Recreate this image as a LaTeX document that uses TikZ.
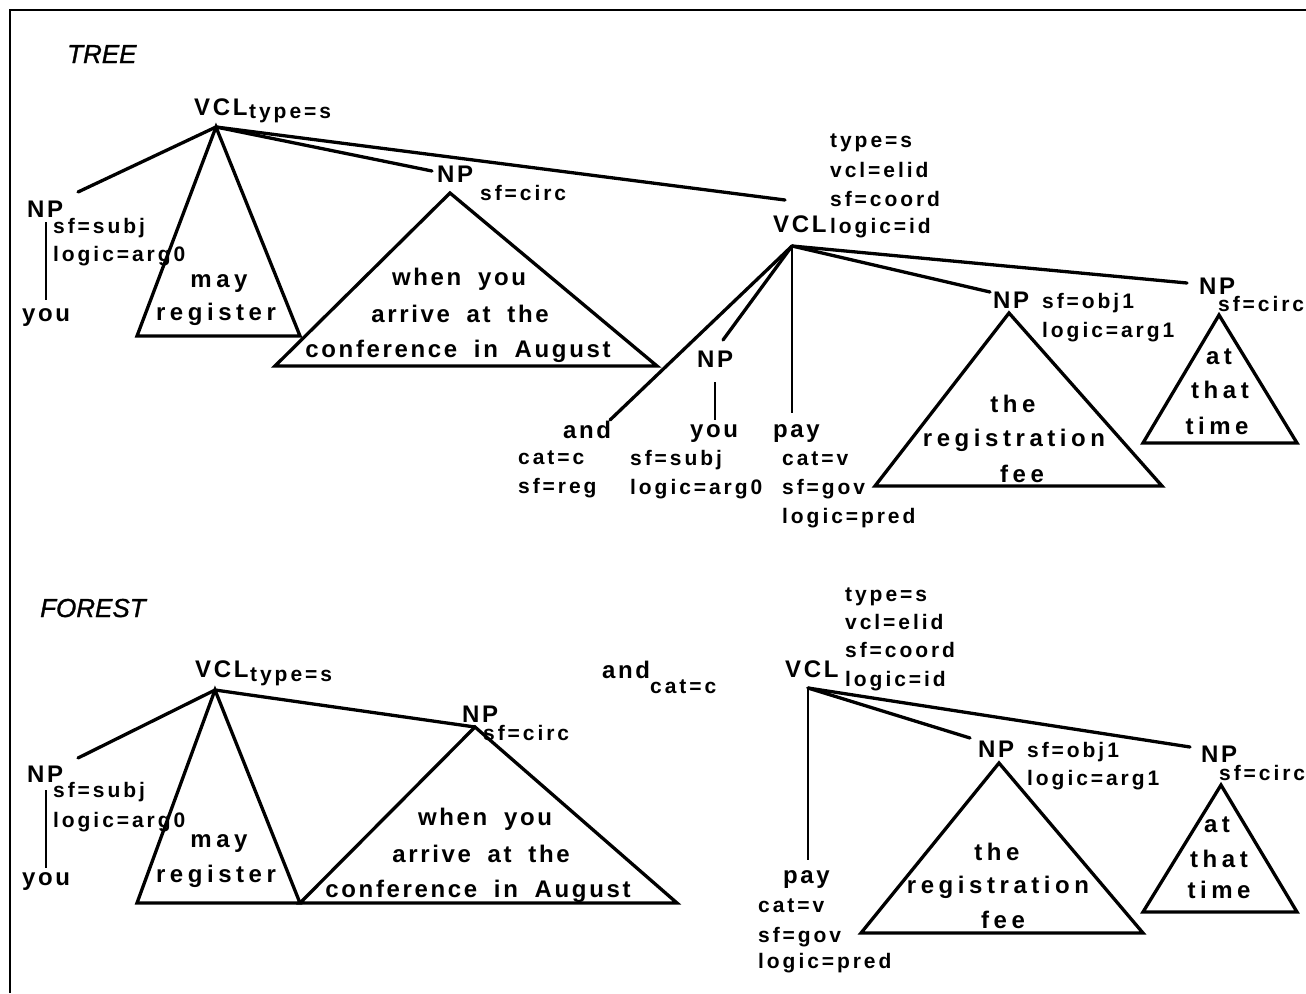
\documentclass[tikz,border=0pt]{standalone}
\usepackage{fontspec}
\setmainfont{Liberation Sans}
\newfontfamily\lblfont[LetterSpace=14]{Liberation Sans Bold}
\newfontfamily\wrdfont[LetterSpace=11,WordSpace=1.8]{Liberation Sans Bold}
\newfontfamily\widefont[LetterSpace=19]{Liberation Sans Bold}
\newfontfamily\ttlfont[FakeBold=1.2]{Liberation Sans Italic}
\tikzset{
  big/.style={inner sep=0pt, font=\wrdfont\fontsize{24}{28}\selectfont},
  bigw/.style={inner sep=0pt, font=\widefont\fontsize{24}{28}\selectfont},
  small/.style={inner sep=0pt, anchor=base west, font=\lblfont\fontsize{21}{25}\selectfont},
  ttl/.style={inner sep=0pt, anchor=base west, font=\ttlfont\fontsize{26}{30}\selectfont},
  bw/.style={anchor=base west},
  bc/.style={anchor=base},
  edge/.style={line width=3.3pt, line cap=round},
  thinedge/.style={line width=2pt},
  tri/.style={line width=3.3pt, line join=miter},
}
\begin{document}
\begin{tikzpicture}[x=1pt,y=-1pt]
\useasboundingbox (0,0) rectangle (1306,993);
\fill[white] (0,0) rectangle (1306,993);

% frame
\coordinate (fBL) at (10,993);
\coordinate (fTL) at (10,10);
\coordinate (fTR) at (1306,10);
\draw[line width=2.6pt] (fBL) -- (fTL) -- (fTR);

% ================= TREE =================
\node[ttl] (ttree) at (67,63) {TREE};

% root clause
\node[big,bw] (vclA) at (194,115) {VCL};
\node[small] (vclAf) at (249,118) {type=s};
\coordinate (rA) at (216,127);

% subject NP
\node[big,bw] (npA) at (27,217) {NP};
\node[small] (npAf1) at (53,233) {sf=subj};
\node[small] (npAf2) at (53,261) {logic=arg0};
\coordinate (npAin) at (78,192);
\coordinate (npAs) at (46,222);
\coordinate (npAe) at (46,300);
\node[big,bw] (youA) at (22,321) {you};
\draw[edge] (rA) -- (npAin);
\draw[thinedge] (npAs) -- (npAe);

% may register
\coordinate (mrAL) at (137,336);
\coordinate (mrAR) at (300,336);
\draw[tri] (rA) -- (mrAL) -- (mrAR) -- cycle;
\node[bigw,bc] (mayA) at (219,287) {may};
\node[bigw,bc] (regA) at (216,320) {register};

% circumstantial NP
\node[big,bw] (npB) at (437,182) {NP};
\node[small] (npBf) at (480,200) {sf=circ};
\coordinate (npBin) at (432,171);
\draw[edge] (rA) -- (npBin);
\coordinate (wA) at (450,193);
\coordinate (wAL) at (275,366);
\coordinate (wAR) at (657,366);
\draw[tri] (wA) -- (wAL) -- (wAR) -- cycle;
\node[big,bc] (whA1) at (459,285) {when you};
\node[big,bc] (whA2) at (460,322) {arrive at the};
\node[big,bc] (whA3) at (458,357) {conference in August};

% elided coordinated clause
\node[big,bw] (vclB) at (773,232) {VCL};
\node[small] (vclBf1) at (830,147) {type=s};
\node[small] (vclBf2) at (830,177) {vcl=elid};
\node[small] (vclBf3) at (830,206) {sf=coord};
\node[small] (vclBf4) at (830,233) {logic=id};
\coordinate (vclBin) at (785,200);
\coordinate (rB) at (792,246);
\draw[edge] (rA) -- (vclBin);

% and
\coordinate (andBin) at (610,420);
\node[big,bw] (andB) at (563,438) {and};
\node[small] (andBf1) at (518,464) {cat=c};
\node[small] (andBf2) at (518,493) {sf=reg};
\draw[edge] (rB) -- (andBin);

% elided subject
\coordinate (npCin) at (723,340);
\node[big,bw] (npC) at (697,367) {NP};
\coordinate (npCs) at (715,382);
\coordinate (npCe) at (715,420);
\node[big,bw] (youC) at (690,437) {you};
\node[small] (youCf1) at (630,465) {sf=subj};
\node[small] (youCf2) at (630,494) {logic=arg0};
\draw[edge] (rB) -- (npCin);
\draw[thinedge] (npCs) -- (npCe);

% verb
\coordinate (payBin) at (792,413);
\node[big,bw] (payB) at (773,437) {pay};
\node[small] (payBf1) at (782,465) {cat=v};
\node[small] (payBf2) at (782,494) {sf=gov};
\node[small] (payBf3) at (782,523) {logic=pred};
\draw[thinedge] (rB) -- (payBin);

% object NP
\coordinate (npDin) at (990,292);
\node[big,bw] (npD) at (993,308) {NP};
\node[small] (npDf1) at (1042,308) {sf=obj1};
\node[small] (npDf2) at (1042,337) {logic=arg1};
\draw[edge] (rB) -- (npDin);
\coordinate (feA) at (1009,313);
\coordinate (feAL) at (875,486);
\coordinate (feAR) at (1162,486);
\draw[tri] (feA) -- (feAL) -- (feAR) -- cycle;
\node[bigw,bc] (feA1) at (1013,412) {the};
\node[bigw,bc] (feA2) at (1014,446) {registration};
\node[bigw,bc] (feA3) at (1022,482) {fee};

% time NP
\coordinate (npEin) at (1187,283);
\node[big,bw] (npE) at (1199,294) {NP};
\node[small] (npEf) at (1218,311) {sf=circ};
\draw[edge] (rB) -- (npEin);
\coordinate (tmA) at (1219,315);
\coordinate (tmAL) at (1143,443);
\coordinate (tmAR) at (1297,443);
\draw[tri] (tmA) -- (tmAL) -- (tmAR) -- cycle;
\node[bigw,bc] (tmA1) at (1219,364) {at};
\node[bigw,bc] (tmA2) at (1220,398) {that};
\node[bigw,bc] (tmA3) at (1217,434) {time};

% ================= FOREST =================
\node[ttl] (tforest) at (40,617) {FOREST};

% first tree
\node[big,bw] (vclF) at (195,677) {VCL};
\node[small] (vclFf) at (250,681) {type=s};
\coordinate (rF) at (215,690);

\node[big,bw] (npF) at (27,782) {NP};
\node[small] (npFf1) at (53,797) {sf=subj};
\node[small] (npFf2) at (53,827) {logic=arg0};
\coordinate (npFin) at (78,758);
\coordinate (npFs) at (46,790);
\coordinate (npFe) at (46,868);
\node[big,bw] (youF) at (22,885) {you};
\draw[edge] (rF) -- (npFin);
\draw[thinedge] (npFs) -- (npFe);

\coordinate (mrFL) at (137,903);
\coordinate (mrFR) at (300,903);
\draw[tri] (rF) -- (mrFL) -- (mrFR) -- cycle;
\node[bigw,bc] (mayF) at (219,847) {may};
\node[bigw,bc] (regF) at (216,882) {register};

\node[big,bw] (npG) at (462,722) {NP};
\node[small] (npGf) at (483,740) {sf=circ};
\coordinate (wF) at (475,727);
\coordinate (wFR) at (677,903);
\draw[edge] (rF) -- (wF);
\draw[tri] (wF) -- (mrFR) -- (wFR) -- cycle;
\node[big,bc] (whF1) at (485,825) {when you};
\node[big,bc] (whF2) at (481,862) {arrive at the};
\node[big,bc] (whF3) at (478,897) {conference in August};

% conjunction
\node[big,bw] (andF) at (602,678) {and};
\node[small] (andFf) at (650,693) {cat=c};

% second tree
\node[big,bw] (vclH) at (785,677) {VCL};
\node[small] (vclHf1) at (845,601) {type=s};
\node[small] (vclHf2) at (845,629) {vcl=elid};
\node[small] (vclHf3) at (845,657) {sf=coord};
\node[small] (vclHf4) at (845,686) {logic=id};
\coordinate (rH) at (808,688);

\coordinate (payHin) at (808,860);
\node[big,bw] (payH) at (783,883) {pay};
\node[small] (payHf1) at (758,912) {cat=v};
\node[small] (payHf2) at (758,942) {sf=gov};
\node[small] (payHf3) at (758,968) {logic=pred};
\draw[thinedge] (rH) -- (payHin);

\coordinate (npIin) at (970,738);
\node[big,bw] (npI) at (978,757) {NP};
\node[small] (npIf1) at (1027,757) {sf=obj1};
\node[small] (npIf2) at (1027,785) {logic=arg1};
\draw[edge] (rH) -- (npIin);
\coordinate (feH) at (999,763);
\coordinate (feHL) at (861,933);
\coordinate (feHR) at (1143,933);
\draw[tri] (feH) -- (feHL) -- (feHR) -- cycle;
\node[bigw,bc] (feH1) at (997,860) {the};
\node[bigw,bc] (feH2) at (998,893) {registration};
\node[bigw,bc] (feH3) at (1003,928) {fee};

\coordinate (npJin) at (1190,747);
\node[big,bw] (npJ) at (1201,762) {NP};
\node[small] (npJf) at (1219,780) {sf=circ};
\draw[edge] (rH) -- (npJin);
\coordinate (tmH) at (1221,785);
\coordinate (tmHL) at (1143,912);
\coordinate (tmHR) at (1297,912);
\draw[tri] (tmH) -- (tmHL) -- (tmHR) -- cycle;
\node[bigw,bc] (tmH1) at (1217,832) {at};
\node[bigw,bc] (tmH2) at (1219,867) {that};
\node[bigw,bc] (tmH3) at (1219,898) {time};
\end{tikzpicture}
\end{document}
